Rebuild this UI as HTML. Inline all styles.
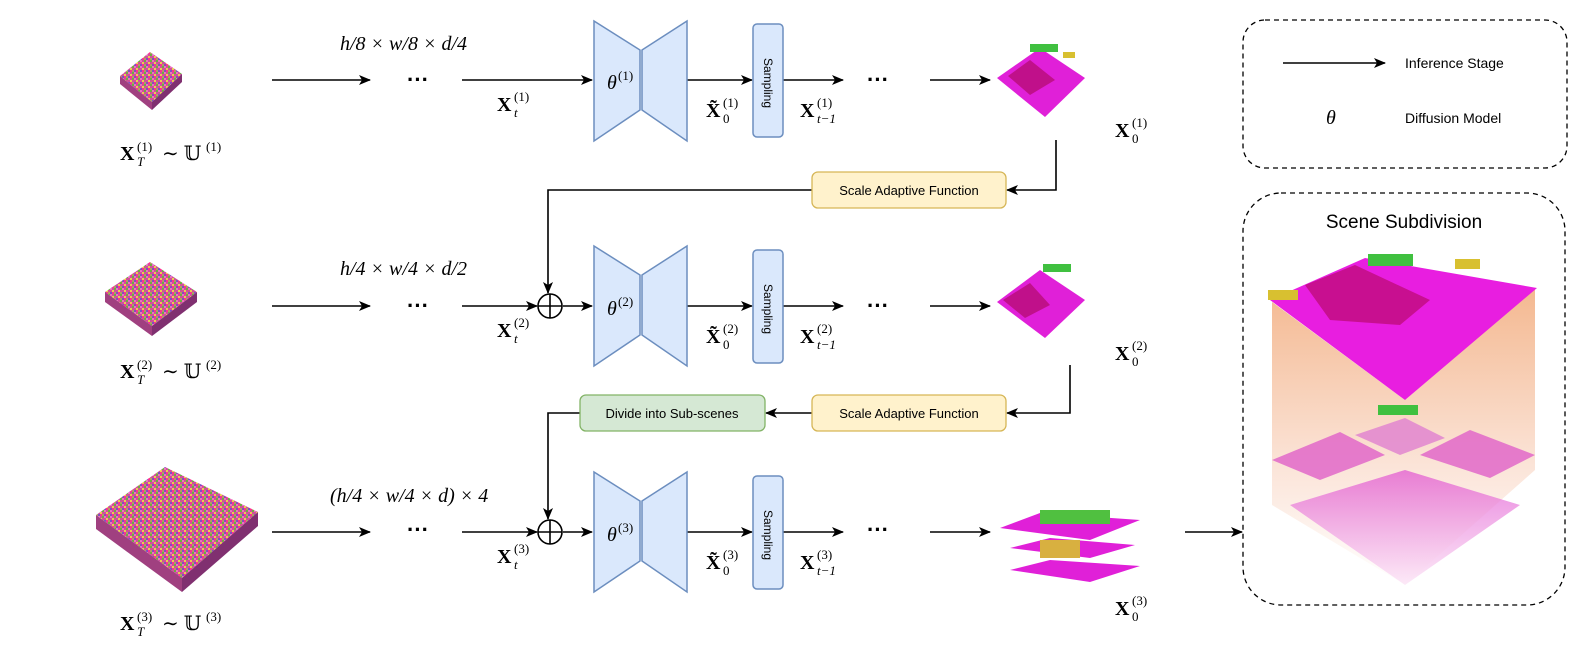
<!DOCTYPE html>
<html><head><meta charset="utf-8"><style>
html,body{margin:0;padding:0;background:#fff;}
svg{display:block;}
.m{font-family:"Liberation Serif","DejaVu Serif",serif;font-size:20px;}
.b{font-weight:bold;}
.sp{font-family:"Liberation Serif",serif;font-size:13px;}
.s{font-family:"Liberation Sans",sans-serif;}
</style></head><body>
<svg width="1578" height="655" viewBox="0 0 1578 655" xmlns="http://www.w3.org/2000/svg">
<defs>
<marker id="ar" markerWidth="12" markerHeight="10" refX="11" refY="5" orient="auto" markerUnits="userSpaceOnUse">
<path d="M0,0 L12,5 L0,10 L3,5 Z" fill="#000"/></marker>
<pattern id="nz" width="6" height="6" patternUnits="userSpaceOnUse">
<rect width="6" height="6" fill="#d0509a"/>
<rect x="0" y="0" width="2" height="2" fill="#6ab040"/>
<rect x="4" y="2" width="2" height="2" fill="#e8d050"/>
<rect x="2" y="4" width="2" height="2" fill="#8050c0"/>
<rect x="2" y="0" width="2" height="2" fill="#f070c0"/>
<rect x="0" y="4" width="2" height="2" fill="#b0a060"/>
<rect x="4" y="4" width="2" height="2" fill="#ff3090"/>
</pattern>
<linearGradient id="cube" x1="0" y1="0" x2="0" y2="1">
<stop offset="0" stop-color="#f4b890"/><stop offset="0.6" stop-color="#fbe4d8"/><stop offset="1" stop-color="#fff"/></linearGradient>
<linearGradient id="fade" x1="0" y1="0" x2="0" y2="1">
<stop offset="0" stop-color="#e050d0"/><stop offset="1" stop-color="#fbe0f4"/></linearGradient>
</defs>

<!-- noise blocks -->
<polygon points="120,76 150,52 182,74 152,102" fill="url(#nz)"/>
<polygon points="120,76 152,102 152,110 120,84" fill="#a04080"/>
<polygon points="152,102 182,74 182,82 152,110" fill="#803070"/>
<polygon points="105,292 150,262 197,292 152,326" fill="url(#nz)"/>
<polygon points="105,292 152,326 152,336 105,302" fill="#a04080"/>
<polygon points="152,326 197,292 197,302 152,336" fill="#803070"/>
<polygon points="96,515 165,467 258,512 182,578" fill="url(#nz)"/>
<polygon points="96,515 182,578 182,592 96,529" fill="#a04080"/>
<polygon points="182,578 258,512 258,526 182,592" fill="#803070"/>

<!-- labels left -->
<g class="m">
<text x="120" y="160" class="b">X</text><text x="137" y="151" class="sp">(1)</text><text x="137" y="166" class="sp" font-style="italic">T</text><text x="162" y="160">∼ 𝕌</text><text x="206" y="151" class="sp">(1)</text>
<text x="120" y="378" class="b">X</text><text x="137" y="369" class="sp">(2)</text><text x="137" y="384" class="sp" font-style="italic">T</text><text x="162" y="378">∼ 𝕌</text><text x="206" y="369" class="sp">(2)</text>
<text x="120" y="630" class="b">X</text><text x="137" y="621" class="sp">(3)</text><text x="137" y="636" class="sp" font-style="italic">T</text><text x="162" y="630">∼ 𝕌</text><text x="206" y="621" class="sp">(3)</text>
</g>

<text x="340" y="50" class="m" font-style="italic">h/8 × w/8 × d/4</text>
<text x="340" y="275" class="m" font-style="italic">h/4 × w/4 × d/2</text>
<text x="330" y="502" class="m" font-style="italic">(h/4 × w/4 × d) × 4</text>

<g stroke="#000" stroke-width="1.6" fill="none">
<line x1="272" y1="80" x2="370" y2="80" marker-end="url(#ar)"/>
<line x1="462" y1="80" x2="592" y2="80" marker-end="url(#ar)"/>
<line x1="687" y1="80" x2="752" y2="80" marker-end="url(#ar)"/>
<line x1="783" y1="80" x2="843" y2="80" marker-end="url(#ar)"/>
<line x1="930" y1="80" x2="990" y2="80" marker-end="url(#ar)"/>
<line x1="272" y1="306" x2="370" y2="306" marker-end="url(#ar)"/>
<line x1="462" y1="306" x2="537" y2="306" marker-end="url(#ar)"/>
<line x1="563" y1="306" x2="592" y2="306" marker-end="url(#ar)"/>
<line x1="687" y1="306" x2="752" y2="306" marker-end="url(#ar)"/>
<line x1="783" y1="306" x2="843" y2="306" marker-end="url(#ar)"/>
<line x1="930" y1="306" x2="990" y2="306" marker-end="url(#ar)"/>
<line x1="272" y1="532" x2="370" y2="532" marker-end="url(#ar)"/>
<line x1="462" y1="532" x2="537" y2="532" marker-end="url(#ar)"/>
<line x1="563" y1="532" x2="592" y2="532" marker-end="url(#ar)"/>
<line x1="687" y1="532" x2="752" y2="532" marker-end="url(#ar)"/>
<line x1="783" y1="532" x2="843" y2="532" marker-end="url(#ar)"/>
<line x1="930" y1="532" x2="990" y2="532" marker-end="url(#ar)"/>
<line x1="1185" y1="532" x2="1242" y2="532" marker-end="url(#ar)"/>
<polyline points="1056,140 1056,190 1007,190" marker-end="url(#ar)"/>
<polyline points="812,190 548,190 548,293" marker-end="url(#ar)"/>
<polyline points="1070,365 1070,413 1007,413" marker-end="url(#ar)"/>
<line x1="812" y1="413" x2="766" y2="413" marker-end="url(#ar)"/>
<polyline points="580,413 548,413 548,519" marker-end="url(#ar)"/>
<circle cx="550" cy="306" r="12"/><line x1="538" y1="306" x2="562" y2="306"/><line x1="550" y1="294" x2="550" y2="318"/>
<circle cx="550" cy="532" r="12"/><line x1="538" y1="532" x2="562" y2="532"/><line x1="550" y1="520" x2="550" y2="544"/>
<line x1="1283" y1="63" x2="1385" y2="63" marker-end="url(#ar)"/>
</g>

<g font-family="Liberation Sans,sans-serif" font-size="22" font-weight="bold">
<text x="407" y="87">···</text><text x="407" y="313">···</text><text x="407" y="537">···</text>
<text x="867" y="87">···</text><text x="867" y="313">···</text><text x="867" y="537">···</text>
</g>

<g fill="#dae8fc" stroke="#6c8ebf" stroke-width="1.5">
<polygon points="594,21 640,50 640,110 594,141"/><polygon points="642,50 687,21 687,141 642,110"/>
<polygon points="594,246 640,275 640,335 594,366"/><polygon points="642,275 687,246 687,366 642,335"/>
<polygon points="594,472 640,501 640,561 594,592"/><polygon points="642,501 687,472 687,592 642,561"/>
<rect x="753" y="24" width="30" height="113" rx="4"/>
<rect x="753" y="250" width="30" height="113" rx="4"/>
<rect x="753" y="476" width="30" height="113" rx="4"/>
</g>
<g class="s" font-size="12">
<text transform="translate(764,58) rotate(90)">Sampling</text>
<text transform="translate(764,284) rotate(90)">Sampling</text>
<text transform="translate(764,510) rotate(90)">Sampling</text>
</g>
<g class="m">
<text x="607" y="89" font-style="italic">θ</text><text x="618" y="80" class="sp">(1)</text>
<text x="607" y="315" font-style="italic">θ</text><text x="618" y="306" class="sp">(2)</text>
<text x="607" y="541" font-style="italic">θ</text><text x="618" y="532" class="sp">(3)</text>

<!-- Xt -->
<text x="497" y="111" class="b">X</text><text x="514" y="101" class="sp">(1)</text><text x="514" y="117" class="sp" font-style="italic">t</text>
<text x="497" y="337" class="b">X</text><text x="514" y="327" class="sp">(2)</text><text x="514" y="343" class="sp" font-style="italic">t</text>
<text x="497" y="563" class="b">X</text><text x="514" y="553" class="sp">(3)</text><text x="514" y="569" class="sp" font-style="italic">t</text>
<!-- X0 tilde -->
<text x="706" y="117" class="b">X̃</text><text x="723" y="107" class="sp">(1)</text><text x="723" y="123" class="sp">0</text>
<text x="706" y="343" class="b">X̃</text><text x="723" y="333" class="sp">(2)</text><text x="723" y="349" class="sp">0</text>
<text x="706" y="569" class="b">X̃</text><text x="723" y="559" class="sp">(3)</text><text x="723" y="575" class="sp">0</text>
<!-- Xt-1 -->
<text x="800" y="117" class="b">X</text><text x="817" y="107" class="sp">(1)</text><text x="817" y="123" class="sp" font-style="italic">t−1</text>
<text x="800" y="343" class="b">X</text><text x="817" y="333" class="sp">(2)</text><text x="817" y="349" class="sp" font-style="italic">t−1</text>
<text x="800" y="569" class="b">X</text><text x="817" y="559" class="sp">(3)</text><text x="817" y="575" class="sp" font-style="italic">t−1</text>
<!-- X0 -->
<text x="1115" y="137" class="b">X</text><text x="1132" y="127" class="sp">(1)</text><text x="1132" y="143" class="sp">0</text>
<text x="1115" y="360" class="b">X</text><text x="1132" y="350" class="sp">(2)</text><text x="1132" y="366" class="sp">0</text>
<text x="1115" y="615" class="b">X</text><text x="1132" y="605" class="sp">(3)</text><text x="1132" y="621" class="sp">0</text>
</g>

<!-- scene images -->
<polygon points="997,78 1040,48 1085,78 1045,117" fill="#e020d8"/>
<polygon points="1008,76 1030,60 1055,80 1030,95" fill="#c0108a"/>
<rect x="1030" y="44" width="28" height="8" fill="#40c040"/>
<rect x="1063" y="52" width="12" height="6" fill="#d8c030"/>
<polygon points="997,302 1040,270 1085,300 1045,338" fill="#e020d8"/>
<polygon points="1003,300 1030,283 1050,305 1025,318" fill="#c0108a"/>
<rect x="1043" y="264" width="28" height="8" fill="#40c040"/>
<polygon points="1000,528 1040,513 1140,520 1090,540" fill="#e020d8"/>
<rect x="1040" y="510" width="70" height="14" fill="#50c040"/>
<polygon points="1010,548 1050,538 1135,545 1090,558" fill="#e020d8"/>
<polygon points="1010,570 1050,560 1140,566 1090,582" fill="#e020d8"/>
<rect x="1040" y="540" width="40" height="18" fill="#d8b040"/>

<g stroke-width="1.3">
<rect x="812" y="172" width="194" height="36" rx="6" fill="#fff2cc" stroke="#d6b656"/>
<rect x="812" y="395" width="194" height="36" rx="6" fill="#fff2cc" stroke="#d6b656"/>
<rect x="580" y="395" width="185" height="36" rx="6" fill="#d5e8d4" stroke="#82b366"/>
</g>
<g class="s" font-size="13" text-anchor="middle">
<text x="909" y="195">Scale Adaptive Function</text>
<text x="909" y="418">Scale Adaptive Function</text>
<text x="672" y="418">Divide into Sub-scenes</text>
</g>

<rect x="1243" y="20" width="324" height="148" rx="22" fill="none" stroke="#000" stroke-width="1.3" stroke-dasharray="5,4"/>
<text x="1405" y="68" class="s" font-size="14">Inference Stage</text>
<text x="1326" y="124" class="m" font-size="22" font-style="italic">θ</text>
<text x="1405" y="123" class="s" font-size="14">Diffusion Model</text>

<rect x="1243" y="193" width="322" height="412" rx="38" fill="none" stroke="#000" stroke-width="1.3" stroke-dasharray="5,4"/>
<text x="1404" y="228" class="s" font-size="19" text-anchor="middle">Scene Subdivision</text>
<polygon points="1272,302 1272,505 1405,585 1535,470 1535,288 1405,400" fill="url(#cube)"/>
<polygon points="1270,300 1365,258 1537,288 1405,400" fill="#e81ee0"/>
<polygon points="1305,285 1355,265 1430,300 1400,325 1330,320" fill="#c80f90"/>
<rect x="1368" y="254" width="45" height="12" fill="#40c040"/>
<rect x="1268" y="290" width="30" height="10" fill="#d8c030"/>
<rect x="1455" y="259" width="25" height="10" fill="#d8c030"/>
<polygon points="1272,460 1340,432 1385,455 1320,480" fill="#e060c8" opacity="0.8"/>
<polygon points="1420,455 1470,430 1535,455 1490,478" fill="#e060c8" opacity="0.8"/>
<polygon points="1355,435 1405,418 1445,438 1400,455" fill="#e080d0" opacity="0.8"/>
<polygon points="1290,505 1405,470 1520,505 1405,585" fill="url(#fade)" opacity="0.7"/>
<rect x="1378" y="405" width="40" height="10" fill="#40c040"/>
</svg>
</body></html>
